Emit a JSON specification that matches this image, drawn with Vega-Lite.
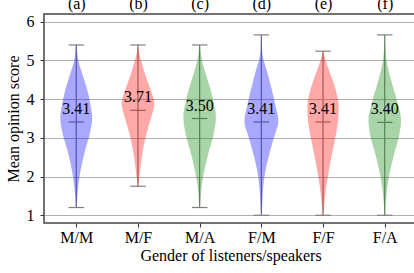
{
  "$schema": "https://vega.github.io/schema/vega-lite/v6.json",
  "width": 373,
  "height": 209,
  "autosize": {"type": "none"},
  "padding": {"left": 44, "top": 14, "right": 0, "bottom": 50},
  "background": "white",
  "config": {
    "font": "Liberation Serif",
    "view": {"stroke": "#444", "strokeWidth": 1.5},
    "axis": {
      "labelFont": "Liberation Serif",
      "titleFont": "Liberation Serif",
      "labelFontSize": 16,
      "titleFontSize": 16,
      "titleFontWeight": "normal",
      "labelColor": "black",
      "titleColor": "black",
      "domainColor": "#333",
      "tickColor": "#333",
      "domainWidth": 1.2,
      "tickWidth": 1,
      "tickSize": 4,
      "gridColor": "#b0b0b0",
      "gridWidth": 1
    }
  },
  "datasets": {
    "violin": [
      {"g": "M/M", "s": "M", "y": 5.4, "lo": 0.995, "hi": 1.005},
      {"g": "M/M", "s": "M", "y": 5.2, "lo": 0.984, "hi": 1.016},
      {"g": "M/M", "s": "M", "y": 5.01, "lo": 0.968, "hi": 1.032},
      {"g": "M/M", "s": "M", "y": 4.58, "lo": 0.887, "hi": 1.113},
      {"g": "M/M", "s": "M", "y": 4.24, "lo": 0.822, "hi": 1.178},
      {"g": "M/M", "s": "M", "y": 3.89, "lo": 0.773, "hi": 1.227},
      {"g": "M/M", "s": "M", "y": 3.51, "lo": 0.741, "hi": 1.259},
      {"g": "M/M", "s": "M", "y": 3.12, "lo": 0.778, "hi": 1.222},
      {"g": "M/M", "s": "M", "y": 2.69, "lo": 0.854, "hi": 1.146},
      {"g": "M/M", "s": "M", "y": 2.18, "lo": 0.927, "hi": 1.073},
      {"g": "M/M", "s": "M", "y": 1.75, "lo": 0.968, "hi": 1.032},
      {"g": "M/M", "s": "M", "y": 1.45, "lo": 0.984, "hi": 1.016},
      {"g": "M/M", "s": "M", "y": 1.2, "lo": 0.995, "hi": 1.005},

      {"g": "M/F", "s": "F", "y": 5.4, "lo": 1.995, "hi": 2.005},
      {"g": "M/F", "s": "F", "y": 5.2, "lo": 1.981, "hi": 2.019},
      {"g": "M/F", "s": "F", "y": 5.01, "lo": 1.951, "hi": 2.049},
      {"g": "M/F", "s": "F", "y": 4.58, "lo": 1.871, "hi": 2.129},
      {"g": "M/F", "s": "F", "y": 4.24, "lo": 1.794, "hi": 2.206},
      {"g": "M/F", "s": "F", "y": 3.89, "lo": 1.736, "hi": 2.264},
      {"g": "M/F", "s": "F", "y": 3.51, "lo": 1.790, "hi": 2.210},
      {"g": "M/F", "s": "F", "y": 3.12, "lo": 1.859, "hi": 2.141},
      {"g": "M/F", "s": "F", "y": 2.69, "lo": 1.919, "hi": 2.081},
      {"g": "M/F", "s": "F", "y": 2.18, "lo": 1.963, "hi": 2.037},
      {"g": "M/F", "s": "F", "y": 1.95, "lo": 1.981, "hi": 2.019},
      {"g": "M/F", "s": "F", "y": 1.75, "lo": 1.995, "hi": 2.005},

      {"g": "M/A", "s": "A", "y": 5.4, "lo": 2.995, "hi": 3.005},
      {"g": "M/A", "s": "A", "y": 5.2, "lo": 2.984, "hi": 3.016},
      {"g": "M/A", "s": "A", "y": 5.01, "lo": 2.963, "hi": 3.037},
      {"g": "M/A", "s": "A", "y": 4.58, "lo": 2.887, "hi": 3.113},
      {"g": "M/A", "s": "A", "y": 4.24, "lo": 2.822, "hi": 3.178},
      {"g": "M/A", "s": "A", "y": 3.89, "lo": 2.769, "hi": 3.231},
      {"g": "M/A", "s": "A", "y": 3.55, "lo": 2.736, "hi": 3.264},
      {"g": "M/A", "s": "A", "y": 3.12, "lo": 2.769, "hi": 3.231},
      {"g": "M/A", "s": "A", "y": 2.69, "lo": 2.843, "hi": 3.157},
      {"g": "M/A", "s": "A", "y": 2.18, "lo": 2.919, "hi": 3.081},
      {"g": "M/A", "s": "A", "y": 1.75, "lo": 2.968, "hi": 3.032},
      {"g": "M/A", "s": "A", "y": 1.45, "lo": 2.984, "hi": 3.016},
      {"g": "M/A", "s": "A", "y": 1.2, "lo": 2.995, "hi": 3.005},

      {"g": "F/M", "s": "M", "y": 5.66, "lo": 3.995, "hi": 4.005},
      {"g": "F/M", "s": "M", "y": 5.18, "lo": 3.984, "hi": 4.016},
      {"g": "F/M", "s": "M", "y": 4.75, "lo": 3.914, "hi": 4.086},
      {"g": "F/M", "s": "M", "y": 4.32, "lo": 3.843, "hi": 4.157},
      {"g": "F/M", "s": "M", "y": 3.89, "lo": 3.778, "hi": 4.222},
      {"g": "F/M", "s": "M", "y": 3.42, "lo": 3.725, "hi": 4.275},
      {"g": "F/M", "s": "M", "y": 3.04, "lo": 3.790, "hi": 4.210},
      {"g": "F/M", "s": "M", "y": 2.61, "lo": 3.866, "hi": 4.134},
      {"g": "F/M", "s": "M", "y": 2.18, "lo": 3.930, "hi": 4.070},
      {"g": "F/M", "s": "M", "y": 1.75, "lo": 3.968, "hi": 4.032},
      {"g": "F/M", "s": "M", "y": 1.32, "lo": 3.984, "hi": 4.016},
      {"g": "F/M", "s": "M", "y": 1.02, "lo": 3.995, "hi": 4.005},

      {"g": "F/F", "s": "F", "y": 5.23, "lo": 4.995, "hi": 5.005},
      {"g": "F/F", "s": "F", "y": 5.1, "lo": 4.976, "hi": 5.024},
      {"g": "F/F", "s": "F", "y": 4.91, "lo": 4.940, "hi": 5.060},
      {"g": "F/F", "s": "F", "y": 4.48, "lo": 4.843, "hi": 5.157},
      {"g": "F/F", "s": "F", "y": 4.14, "lo": 4.778, "hi": 5.222},
      {"g": "F/F", "s": "F", "y": 3.79, "lo": 4.746, "hi": 5.254},
      {"g": "F/F", "s": "F", "y": 3.36, "lo": 4.762, "hi": 5.238},
      {"g": "F/F", "s": "F", "y": 2.93, "lo": 4.811, "hi": 5.189},
      {"g": "F/F", "s": "F", "y": 2.5, "lo": 4.866, "hi": 5.134},
      {"g": "F/F", "s": "F", "y": 2.07, "lo": 4.914, "hi": 5.086},
      {"g": "F/F", "s": "F", "y": 1.64, "lo": 4.956, "hi": 5.044},
      {"g": "F/F", "s": "F", "y": 1.21, "lo": 4.984, "hi": 5.016},
      {"g": "F/F", "s": "F", "y": 1.0, "lo": 4.995, "hi": 5.005},

      {"g": "F/A", "s": "A", "y": 5.66, "lo": 5.995, "hi": 6.005},
      {"g": "F/A", "s": "A", "y": 5.18, "lo": 5.984, "hi": 6.016},
      {"g": "F/A", "s": "A", "y": 4.75, "lo": 5.940, "hi": 6.060},
      {"g": "F/A", "s": "A", "y": 4.32, "lo": 5.866, "hi": 6.134},
      {"g": "F/A", "s": "A", "y": 3.89, "lo": 5.790, "hi": 6.210},
      {"g": "F/A", "s": "A", "y": 3.47, "lo": 5.736, "hi": 6.264},
      {"g": "F/A", "s": "A", "y": 3.04, "lo": 5.769, "hi": 6.231},
      {"g": "F/A", "s": "A", "y": 2.61, "lo": 5.843, "hi": 6.157},
      {"g": "F/A", "s": "A", "y": 2.18, "lo": 5.908, "hi": 6.092},
      {"g": "F/A", "s": "A", "y": 1.75, "lo": 5.956, "hi": 6.044},
      {"g": "F/A", "s": "A", "y": 1.32, "lo": 5.984, "hi": 6.016},
      {"g": "F/A", "s": "A", "y": 1.0, "lo": 5.995, "hi": 6.005}
    ],
    "stats": [
      {"g": "M/M", "pos": 1, "lo": 0.875, "hi": 1.125, "min": 1.2, "max": 5.4, "mean": 3.41, "label": "3.41"},
      {"g": "M/F", "pos": 2, "lo": 1.875, "hi": 2.125, "min": 1.75, "max": 5.4, "mean": 3.71, "label": "3.71"},
      {"g": "M/A", "pos": 3, "lo": 2.875, "hi": 3.125, "min": 1.2, "max": 5.4, "mean": 3.50, "label": "3.50"},
      {"g": "F/M", "pos": 4, "lo": 3.875, "hi": 4.125, "min": 1.0, "max": 5.66, "mean": 3.41, "label": "3.41"},
      {"g": "F/F", "pos": 5, "lo": 4.875, "hi": 5.125, "min": 1.0, "max": 5.24, "mean": 3.41, "label": "3.41"},
      {"g": "F/A", "pos": 6, "lo": 5.875, "hi": 6.125, "min": 1.0, "max": 5.66, "mean": 3.40, "label": "3.40"}
    ]
  },
  "resolve": {"axis": {"x": "independent", "y": "independent"}},
  "layer": [
    {
      "data": {"name": "stats"},
      "mark": {"type": "rule", "color": "#808080", "strokeWidth": 1.2},
      "encoding": {
        "x": {
          "field": "pos", "type": "quantitative",
          "scale": {"domain": [0.477, 6.523], "nice": false, "zero": false},
          "axis": {
            "orient": "bottom",
            "values": [1, 2, 3, 4, 5, 6],
            "labelExpr": "['','M/M','M/F','M/A','F/M','F/F','F/A'][datum.value]",
            "title": "Gender of listeners/speakers",
            "grid": false,
            "labelPadding": 2,
            "titlePadding": 2,
            "domain": false
          }
        },
        "y": {
          "field": "min", "type": "quantitative",
          "scale": {"domain": [0.8, 6.2], "nice": false, "zero": false},
          "axis": {
            "orient": "left",
            "values": [1, 2, 3, 4, 5, 6],
            "title": "Mean opinion score",
            "grid": true,
            "labelPadding": 6,
            "titlePadding": 5,
            "domain": false
          }
        },
        "y2": {"field": "max"}
      }
    },
    {
      "data": {"name": "stats"},
      "transform": [{"fold": ["min", "max", "mean"], "as": ["k", "v"]}],
      "mark": {"type": "rule", "color": "#808080", "strokeWidth": 1.2},
      "encoding": {
        "x": {"field": "lo", "type": "quantitative", "scale": {"domain": [0.477, 6.523], "nice": false, "zero": false}, "axis": null},
        "x2": {"field": "hi"},
        "y": {"field": "v", "type": "quantitative", "scale": {"domain": [0.8, 6.2], "nice": false, "zero": false}, "axis": null}
      }
    },
    {
      "data": {"name": "violin"},
      "mark": {"type": "area", "orient": "horizontal", "interpolate": "monotone", "opacity": 0.34},
      "encoding": {
        "y": {"field": "y", "type": "quantitative", "scale": {"domain": [0.8, 6.2], "nice": false, "zero": false}, "axis": null},
        "x": {"field": "lo", "type": "quantitative", "scale": {"domain": [0.477, 6.523], "nice": false, "zero": false}, "axis": null},
        "x2": {"field": "hi"},
        "color": {"field": "s", "type": "nominal", "scale": {"domain": ["M", "F", "A"], "range": ["#0000ff", "#ff0000", "#008000"]}, "legend": null},
        "detail": {"field": "g"}
      }
    },
    {
      "data": {"name": "stats"},
      "mark": {"type": "text", "dy": -13, "fontSize": 16, "font": "Liberation Serif", "color": "black", "baseline": "middle"},
      "encoding": {
        "x": {
          "field": "pos", "type": "quantitative",
          "scale": {"domain": [0.477, 6.523], "nice": false, "zero": false},
          "axis": {
            "orient": "top",
            "values": [1, 2, 3, 4, 5, 6],
            "labelExpr": "['','(a)','(b)','(c)','(d)','(e)','(f)'][datum.value]",
            "title": null,
            "ticks": false,
            "domain": false,
            "grid": false,
            "labelPadding": 3
          }
        },
        "y": {"field": "mean", "type": "quantitative", "scale": {"domain": [0.8, 6.2], "nice": false, "zero": false}, "axis": null},
        "text": {"field": "label"}
      }
    }
  ]
}
